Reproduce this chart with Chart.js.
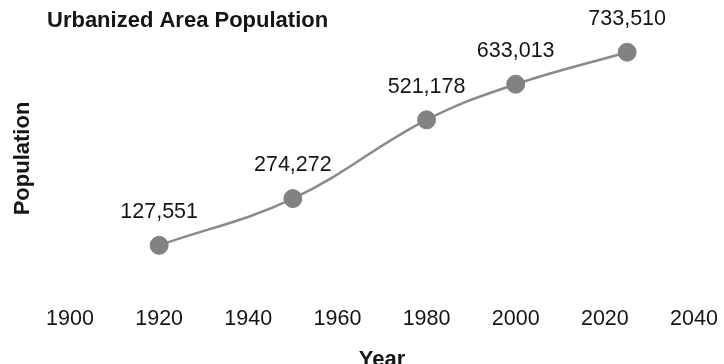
<!DOCTYPE html>
<html>
<head>
<meta charset="utf-8">
<script src="https://cdn.jsdelivr.net/npm/chart.js@4"></script>
<style>
html,body{margin:0;padding:0;background:#fff;}
#wrap{width:724px;height:364px;}
</style>
</head>
<body>
<div id="wrap"><canvas id="c" width="724" height="364"></canvas></div>
<script>
const years = [1920, 1950, 1980, 2000, 2025];
const population = [127551, 274272, 521178, 633013, 733510];
const xTickStep = 20;
const xMin = 1900, xMax = 2040;
const chartTitle = "Urbanized Area Population";
const xTitle = "Year";
const yTitle = "Population";

const FONT = "'Liberation Sans', Arial, sans-serif";
const TEXT = '#151515';

const titlePlugin = {
  id: 'leftTitle',
  afterDraw(chart) {
    const ctx = chart.ctx;
    ctx.save();
    ctx.font = "bold 22px " + FONT;
    ctx.fillStyle = TEXT;
    ctx.textAlign = 'left';
    ctx.textBaseline = 'alphabetic';
    ctx.fillText(chartTitle, 47, 27);
    ctx.restore();
  }
};

const labelPlugin = {
  id: 'valueLabels',
  afterDatasetsDraw(chart) {
    const ctx = chart.ctx;
    const meta = chart.getDatasetMeta(0);
    ctx.save();
    ctx.font = "21.5px " + FONT;
    ctx.fillStyle = TEXT;
    ctx.textAlign = 'center';
    ctx.textBaseline = 'middle';
    meta.data.forEach((pt, i) => {
      ctx.fillText(population[i].toLocaleString('en-US'), pt.x, pt.y - 33);
    });
    ctx.restore();
  }
};

new Chart(document.getElementById('c'), {
  type: 'line',
  data: {
    datasets: [{
      data: years.map((y, i) => ({x: y, y: population[i]})),
      borderColor: '#8a8a8a',
      borderWidth: 2.5,
      backgroundColor: '#828282',
      pointBackgroundColor: '#828282',
      pointBorderColor: '#828282',
      pointRadius: 9,
      pointBorderWidth: 1,
      tension: 0.4,
      fill: false
    }]
  },
  options: {
    responsive: false,
    animation: false,
    devicePixelRatio: 1,
    layout: {autoPadding: false, padding: {top: 31, left: 0, right: 30, bottom: 0}},
    plugins: {
      legend: {display: false},
      tooltip: {enabled: false},
      title: {display: false}
    },
    scales: {
      x: {
        type: 'linear',
        min: xMin,
        max: xMax,
        grid: {display: true, color: 'rgba(0,0,0,0)', drawOnChartArea: false, drawTicks: true, tickLength: 20},
        border: {display: false},
        ticks: {
          stepSize: xTickStep,
          font: {family: FONT, size: 21.5},
          color: TEXT,
          padding: 0,
          callback: v => String(v)
        },
        title: {
          display: true,
          text: xTitle,
          font: {family: FONT, size: 22, weight: 'bold'},
          color: TEXT,
          padding: {top: 0, bottom: -9}
        },
        afterFit(s) { s.height = 78; s.paddingRight = Math.min(s.paddingRight, 30); }
      },
      y: {
        min: 0,
        max: 800000,
        grid: {display: false, drawTicks: false},
        border: {display: false},
        ticks: {display: false},
        title: {
          display: true,
          text: yTitle,
          font: {family: FONT, size: 22, weight: 'bold'},
          color: TEXT,
          padding: {top: 10, bottom: 0}
        },
        afterFit(s) { s.width = 70; }
      }
    }
  },
  plugins: [titlePlugin, labelPlugin]
});
</script>
</body>
</html>
